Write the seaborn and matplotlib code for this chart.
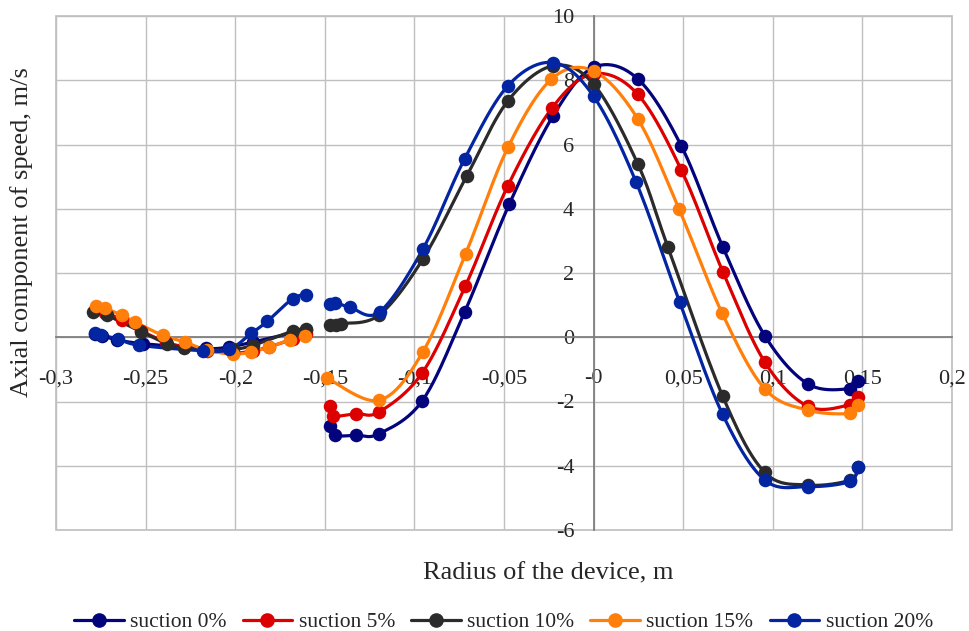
import numpy as np
import pandas as pd
import matplotlib
matplotlib.use('Agg')
import matplotlib.pyplot as plt
import seaborn as sns
from matplotlib.lines import Line2D
from matplotlib.patches import Rectangle

# %%
# data: two pieces per series (left wall zone, main zone)
labels = ['suction 0%', 'suction 5%', 'suction 10%', 'suction 15%', 'suction 20%']
colors = ['#03037C', '#DC0000', '#2B2B2B', '#FF7F0A', '#0325A2']

# suction 0%
x0_left = [-0.278, -0.2745, -0.266, -0.2515, -0.2165, -0.2035, -0.19, -0.1675, -0.1605]
y0_left = [0.1, 0.05, -0.08, -0.2, -0.35, -0.3, -0.15, 0.15, 0.22]
x0_right = [-0.147, -0.1445, -0.1325, -0.1195, -0.0955, -0.072, -0.047, -0.0225, 0.0,
            0.0245, 0.049, 0.0722, 0.0955, 0.1195, 0.143, 0.1475]
y0_right = [-2.75, -3.05, -3.05, -3.0, -1.97, 0.78, 4.15, 6.9, 8.4,
            8.05, 5.95, 2.8, 0.05, -1.45, -1.6, -1.35]

# suction 5%
x5_left = [-0.2785, -0.2725, -0.263, -0.2525, -0.2385, -0.2285, -0.216, -0.2015, -0.19, -0.181, -0.1675, -0.1605]
y5_left = [0.85, 0.75, 0.55, 0.2, -0.15, -0.3, -0.42, -0.5, -0.42, -0.3, -0.05, 0.1]
x5_right = [-0.147, -0.1455, -0.1325, -0.1195, -0.0955, -0.0715, -0.0478, -0.023, 0.0,
            0.0245, 0.049, 0.0722, 0.0955, 0.1195, 0.143, 0.1475]
y5_right = [-2.15, -2.45, -2.38, -2.32, -1.1, 1.6, 4.72, 7.15, 8.2,
            7.57, 5.2, 2.03, -0.77, -2.15, -2.1, -1.85]

# suction 10%
x10_left = [-0.2795, -0.2715, -0.2525, -0.238, -0.2285, -0.216, -0.2015, -0.19, -0.1675, -0.1605]
y10_left = [0.8, 0.68, 0.17, -0.2, -0.32, -0.4, -0.38, -0.25, 0.2, 0.25]
x10_right = [-0.1473, -0.1436, -0.1408, -0.1195, -0.0952, -0.0707, -0.0478, -0.0227, 0.0,
             0.0247, 0.0415, 0.072, 0.0954, 0.1196, 0.1429, 0.1475]
y10_right = [0.37, 0.37, 0.42, 0.7, 2.44, 5.03, 7.36, 8.45, 7.88,
             5.39, 2.8, -1.83, -4.2, -4.6, -4.45, -4.05]

# suction 15%
x15_left = [-0.2775, -0.2725, -0.263, -0.256, -0.2405, -0.228, -0.216, -0.2015, -0.191, -0.181, -0.1695, -0.161]
y15_left = [0.98, 0.9, 0.68, 0.48, 0.06, -0.15, -0.4, -0.52, -0.46, -0.3, -0.08, 0.05]
x15_right = [-0.1485, -0.1195, -0.0953, -0.0714, -0.0478, -0.0236, 0.0,
             0.0247, 0.0476, 0.0718, 0.0954, 0.1196, 0.1429, 0.1475]
y15_right = [-1.28, -1.96, -0.46, 2.6, 5.91, 8.03, 8.29,
             6.79, 4.0, 0.74, -1.6, -2.27, -2.37, -2.11]

# suction 20%
x20_left = [-0.2785, -0.275, -0.2655, -0.2535, -0.218, -0.2035, -0.191, -0.182, -0.168, -0.1605]
y20_left = [0.12, 0.07, -0.05, -0.25, -0.42, -0.38, 0.12, 0.5, 1.2, 1.33]
x20_right = [-0.1473, -0.1445, -0.1362, -0.1194, -0.0952, -0.072, -0.0478, -0.0227, 0.0,
             0.0238, 0.048, 0.072, 0.0954, 0.1196, 0.1429, 0.1475]
y20_right = [1.02, 1.08, 0.94, 0.79, 2.75, 5.55, 7.83, 8.55, 7.5,
             4.82, 1.1, -2.4, -4.44, -4.65, -4.49, -4.03]

series = [
    [(x0_left, y0_left), (x0_right, y0_right)],
    [(x5_left, y5_left), (x5_right, y5_right)],
    [(x10_left, y10_left), (x10_right, y10_right)],
    [(x15_left, y15_left), (x15_right, y15_right)],
    [(x20_left, y20_left), (x20_right, y20_right)],
]

x_ticks = np.round(np.arange(-0.3, 0.2001, 0.05), 2)
y_ticks = np.arange(-6, 11, 2)


# %%
# excel-like smoothing (catmull-rom through the points)
def smooth(xs, ys, n=24):
    p = np.column_stack([xs, ys]).astype(float)
    p = np.vstack([p[0], p, p[-1]])
    out = []
    t = np.linspace(0, 1, n)[:, None]
    for i in range(1, len(p) - 2):
        p0, p1, p2, p3 = p[i - 1], p[i], p[i + 1], p[i + 2]
        seg = 0.5 * ((2 * p1) + (-p0 + p2) * t + (2 * p0 - 5 * p1 + 4 * p2 - p3) * t ** 2
                     + (-p0 + 3 * p1 - 3 * p2 + p3) * t ** 3)
        out.append(seg if i == 1 else seg[1:])
    out = np.vstack(out)
    return pd.DataFrame({'x': out[:, 0], 'y': out[:, 1]})


# %%
sns.set_style('white')
plt.rcParams['font.family'] = ['Liberation Serif', 'DejaVu Serif']

fig = plt.figure(figsize=(9.7, 6.31), dpi=100)
ax = fig.add_axes([56 / 970, 1 - 530 / 631, 896 / 970, 514 / 631])

for segs, c in zip(series, colors):
    for xs, ys in segs:
        sm = smooth(xs, ys)
        sns.lineplot(data=sm, x='x', y='y', sort=False, estimator=None,
                     color=c, linewidth=2.3, ax=ax)
        pts = pd.DataFrame({'x': xs, 'y': ys})
        sns.scatterplot(data=pts, x='x', y='y', color=c, s=95,
                        linewidth=0, ax=ax, zorder=3)

ax.set_xlim(-0.3, 0.2)
ax.set_ylim(-6, 10)
ax.set_xticks(x_ticks)
ax.set_yticks(y_ticks)
ax.set_xticklabels([('%g' % v).replace('.', ',') for v in x_ticks])
ax.set_yticklabels([str(v) for v in y_ticks])
ax.grid(True, color='#BFBFBF', linewidth=1.0)
ax.set_axisbelow(True)

# axes cross at zero like in excel
ax.spines['left'].set_position(('data', 0))
ax.spines['bottom'].set_position(('data', 0))
for s in ['left', 'bottom']:
    ax.spines[s].set_color('#7F7F7F')
    ax.spines[s].set_linewidth(1.3)
    ax.spines[s].set_zorder(1.5)
ax.spines['top'].set_visible(False)
ax.spines['right'].set_visible(False)
ax.add_patch(Rectangle((0, 0), 1, 1, transform=ax.transAxes, fill=False,
                       edgecolor='#BFBFBF', linewidth=1.2, clip_on=False, zorder=0))

ax.tick_params(axis='x', length=0, pad=23, labelsize=16)
ax.tick_params(axis='y', length=0, pad=14, labelsize=16)

ax.set_xlabel('Radius of the device, m', fontsize=19)
ax.set_ylabel('Axial component of speed, m/s', fontsize=19)
ax.xaxis.set_label_coords(0.549, -0.064)
ax.yaxis.set_label_coords(-0.026, 0.58)

handles = [Line2D([], [], color=c, linewidth=2.3, marker='o', markersize=9.5)
           for c in colors]
fig.legend(handles, labels, loc='center', bbox_to_anchor=(0.519, 0.014), ncol=5,
           frameon=False, fontsize=15.5, handlelength=2.3, handletextpad=0.3,
           columnspacing=0.75)

plt.savefig('out.png', dpi=100)
